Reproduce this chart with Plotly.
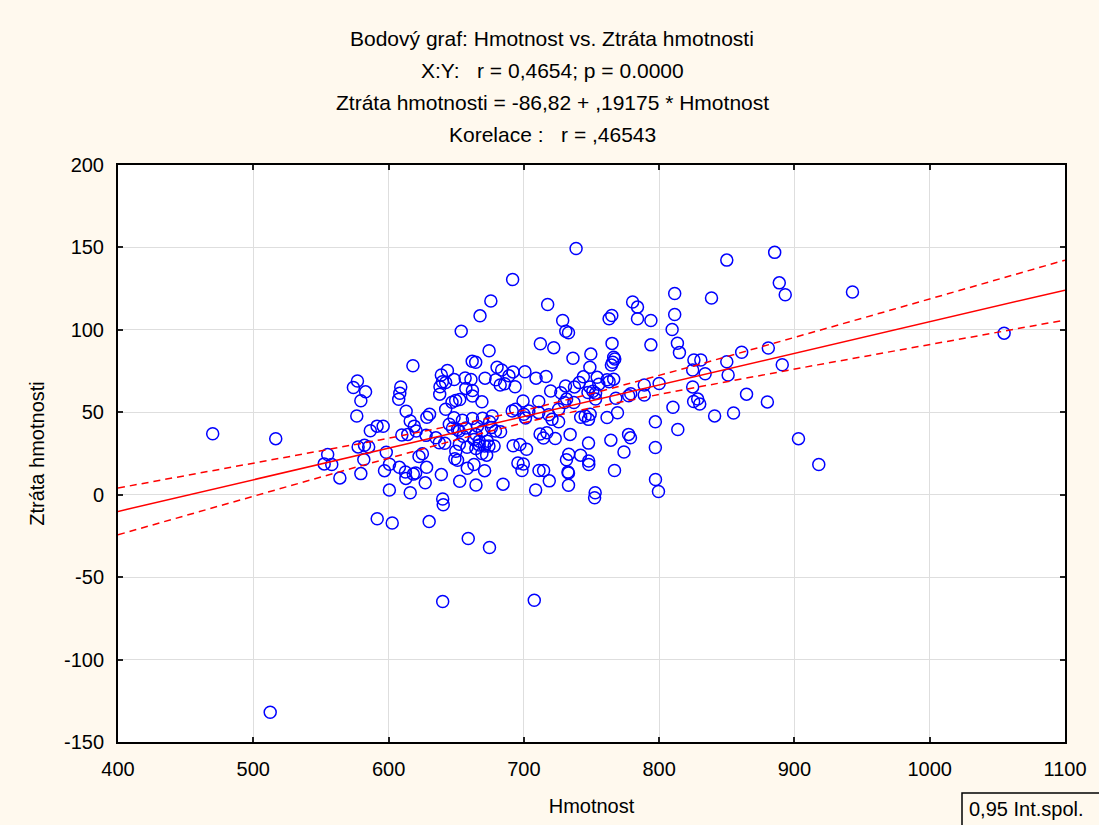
import numpy as np
import plotly.graph_objects as go

# Hmotnost (x) a Ztráta hmotnosti (y)
hmotnost = [
    470, 512.5, 516.6, 552.4, 555, 558, 564, 574, 577, 583, 579.5, 576.5, 586.5, 591.5, 596,
    577.5, 582.2, 585.3, 581.7, 579.5, 598.3, 597, 591.6, 600.7, 600.6, 602.7, 607.5, 608.3,
    609, 613, 616, 619, 620.4, 614.2, 609.8, 618, 608, 612.5, 612.8, 618.3, 620, 616, 622.5,
    625, 628.1, 627.1, 639, 628.3, 630.3, 627.7, 630, 635, 637.5, 641.5, 639, 643.5, 639.8,
    642.2, 638, 637.8, 648.5, 640, 640.4, 640, 642.2, 646.9, 649.6, 652.6, 648.4, 654.6,
    644.9, 647.3, 651, 652.2, 655.1, 657.1, 649.7, 649, 651, 652.3, 658, 652.6, 653.7, 656.6,
    660.9, 657.1, 662, 661.8, 664.4, 658.9, 658.2, 663.1, 662, 663.2, 664.5, 665.7, 664.6,
    667.6, 675.6, 691.7, 674.3, 671.3, 669, 662, 669.5, 676.6, 667, 673, 669.3, 674.7, 676,
    679, 682.8, 664.5, 667, 671, 674.2, 678, 669, 672.5, 671, 674.6, 684.6, 680.2, 683.6,
    689, 693.5, 692, 679.2, 682.5, 685.8, 700.8, 699.4, 691.4, 693.9, 700, 701.2, 692.1,
    697.1, 702, 695.6, 699.6, 698.6, 709, 716.4, 719.8, 711, 717.6, 712.2, 722.1, 728.7, 731,
    733, 736.3, 749.5, 748.8, 754.2, 761.5, 766.4, 763, 741, 744, 730.8, 737.4, 748.8, 755.4,
    751, 727.3, 731.6, 730, 737, 747.4, 753, 753, 768, 777.5, 779, 789, 703.7, 711, 718.4,
    720.8, 725.7, 725.7, 742, 745.3, 747.8, 749, 761.5, 769.2, 797.2, 810.2, 813.8, 825.5,
    828.5, 830, 841, 855, 712, 714.5, 717, 723.2, 734.2, 747.8, 764.3, 777.4, 778.8, 774,
    797.2, 731.5, 733.2, 741.9, 747.9, 748, 711.2, 714.6, 718.8, 708.7, 732.6, 733, 733, 767,
    797.3, 799.5, 752.7, 752.3, 707.7, 903, 918, 738.6, 765, 763, 765.2, 766.4, 767.2, 765.7,
    764.7, 780.4, 784, 784, 793.9, 793.9, 811.5, 811.5, 809.6, 813.5, 815, 838.7, 825.7,
    830.8, 824.8, 834, 824.8, 850, 885.4, 888.8, 893.2, 942.9, 850, 861, 880.7, 891, 851,
    864.6, 880, 1055, 789, 800,
]
ztrata_hmotnosti = [
    37, -132, 34, 18.7, 24.4, 18.3, 10.2, 65, 69, 62.4, 57, 47.7, 38.8, 41.6, 41.5,
    29, 30, 29, 21.3, 12.8, 25.8, 14.6, -14.6, 18.5, 2.8, -17.2, 57.9, 61.5,
    65.3, 50.6, 44.7, 41.6, 38.6, 36.6, 36.2, 78.2, 16.6, 13.8, 9.9, 12.5, 13.2, 1.2, 23.2,
    24.9, 16.6, 7.2, 12.2, 47, 48.8, 36, -16.3, 34.5, 31.5, 31.2, 72.6, 75.3, 68.5,
    68.1, 65.5, 61, 69.9, -2.6, -6.1, -64.8, 51.8, 56.1, 57.2, 57.7, 46.7, 45.2,
    42.7, 40.5, 39.6, 38.6, 35.5, 40.5, 26.4, 21.8, 20.9, 30.6, 28.8, 8.2, 99.2, 70.8,
    69.9, 64.5, 63.2, 80.9, 80.3, -26.6, 16.1, 18.3, 59.9, 33.5, 36.6, 41.6, 5.9,
    108.5, 117.5, 130.5, 87.3, 70.7, 56.4, 46.2, 46.4, 47.7, 32.5, 32.5, 38.6, 44.3, 40.7,
    38.6, 38.2, 28, 30.2, 29.5, 29.5, 29.5, 25, 24, 14.6, -32, 6.4, 77.3, 75.7,
    72.1, 65.5, 74.5, 69.7, 66.5, 67.3, 74.6, 56.9, 50.8, 51.8, 48.8, 46.6, 29.7,
    30.5, 27.6, 19.3, 18.6, 14.7, 70.7, 71.7, 62.9, 56.6, 115.4, 91.6, 89.2, 105.7, 99.2,
    98.2, 82.8, 85.3, 77.3, 71.2, 69.7, 70.1, 68.5, 68, 71.5, 66, 65.4, 65.4, 67,
    62.8, 61.8, 58, 55.9, 55.9, 62, 61.6, 58, 58.5, 60, 61.2, 60.5, 50.8, 49.8, 48.5,
    45.7, 44.3, 51.8, 47, 47.7, 45.7, 48.8, 46.8, 49.7, 44.2, 53.1, 39.6, 56.5,
    58, 55, 47.8, 49.6, 36.8, 34.4, 37.6, 34.1, 36.6, 31.3, 33.1, 36.6, 34.5, 25.9,
    28.6, 21.2, 24.6, 24, 20.5, 18.3, 14.7, 14.7, 8.4, 2.9, 13.8, 13.2, 5.7, 14.7,
    9.2, 1.9, 1.2, -1.8, -64, 34, 18.3, 149.3, 108.7, 106.7, 91.8, 83.4, 82.3, 80.3,
    78.7, 116.9, 113.8, 106.7, 105.7, 90.9, 122.1, 109.3, 100.2, 91.9, 86.2, 119.3, 81.7,
    81.7, 75.6, 73.4, 65.4, 142.3, 147, 128.5, 121.3, 123, 80.7, 86.4, 89, 78.8, 72.6,
    61, 56.3, 98, 66.6, 67.5,
]

# Regresní přímka z titulku: Ztráta hmotnosti = -86,82 + ,19175 * Hmotnost
intercept = -86.82
slope = 0.19175

x_tick_vals = [400, 500, 600, 700, 800, 900, 1000, 1100]
y_tick_vals = [-150, -100, -50, 0, 50, 100, 150, 200]

title_lines = [
    "Bodový graf: Hmotnost vs. Ztráta hmotnosti",
    "X:Y:   r = 0,4654; p = 0.0000",
    "Ztráta hmotnosti = -86,82 + ,19175 * Hmotnost",
    "Korelace :   r = ,46543",
]

x = np.array(hmotnost, dtype=float)
y = np.array(ztrata_hmotnosti, dtype=float)
n = len(x)

# 95% pás spolehlivosti pro střední hodnotu
xs = np.linspace(400, 1100, 200)
fit = intercept + slope * xs
resid = y - (intercept + slope * x)
s = np.sqrt(np.sum(resid ** 2) / (n - 2))
sxx = np.sum((x - x.mean()) ** 2)
half = 1.97 * s * np.sqrt(1.0 / n + (xs - x.mean()) ** 2 / sxx)

FONT = "Liberation Sans, Arial, sans-serif"
BG = "#FFF9EE"

fig = go.Figure()
fig.add_trace(go.Scatter(
    x=hmotnost, y=ztrata_hmotnosti, mode="markers",
    marker=dict(symbol="circle-open", size=12, color="#0000FF", line=dict(width=1.5, color="#0000FF")),
    showlegend=False, cliponaxis=True,
))
fig.add_trace(go.Scatter(x=xs, y=fit, mode="lines", line=dict(color="#FF0000", width=1.5), showlegend=False))
fig.add_trace(go.Scatter(x=xs, y=fit + half, mode="lines",
                         line=dict(color="#FF0000", width=1.5, dash="7px,5px"), showlegend=False))
fig.add_trace(go.Scatter(x=xs, y=fit - half, mode="lines",
                         line=dict(color="#FF0000", width=1.5, dash="7px,5px"), showlegend=False))

L, R, T, B = 118, 34, 165, 83
W, H = 1099, 825
pw, ph = W - L - R, H - T - B


def px_x(p):
    return (p - L) / pw


def px_y(p):
    return (H - B - p) / ph


annotations = []
for i, line in enumerate(title_lines):
    annotations.append(dict(
        text=line, x=px_x(552), y=px_y(38 + 32 * i), xref="paper", yref="paper",
        xanchor="center", yanchor="middle", showarrow=False,
        font=dict(family=FONT, size=21, color="#000000"),
    ))
annotations.append(dict(
    text="0,95 Int.spol.", x=px_x(967), y=px_y(809), xref="paper", yref="paper",
    xanchor="left", yanchor="middle", showarrow=False,
    font=dict(family=FONT, size=20, color="#000000"),
))

fig.update_layout(
    width=W, height=H,
    margin=dict(l=L, r=R, t=T, b=B, pad=0),
    paper_bgcolor=BG, plot_bgcolor="#FFFFFF",
    font=dict(family=FONT, size=20, color="#000000"),
    annotations=annotations,
    shapes=[dict(type="rect", xref="paper", yref="paper",
                 x0=px_x(962), x1=px_x(1110), y0=px_y(840), y1=px_y(793),
                 line=dict(color="#000000", width=1.5), fillcolor=BG, layer="above")],
)
fig.update_xaxes(
    range=[400, 1100], tickvals=x_tick_vals, ticktext=[str(v) for v in x_tick_vals],
    showgrid=True, gridcolor="#DEDEDE", gridwidth=1, zeroline=False,
    showline=True, linecolor="#000000", linewidth=2, mirror="allticks",
    ticks="inside", ticklen=5, tickwidth=2, tickcolor="#222222",
    tickfont=dict(family=FONT, size=20), ticklabelstandoff=8,
    title=dict(text="Hmotnost", font=dict(family=FONT, size=20), standoff=20),
)
fig.update_yaxes(
    range=[-150, 200], tickvals=y_tick_vals, ticktext=[str(v) for v in y_tick_vals],
    showgrid=True, gridcolor="#DEDEDE", gridwidth=1, zeroline=False,
    showline=True, linecolor="#000000", linewidth=2, mirror="allticks",
    ticks="inside", ticklen=5, tickwidth=2, tickcolor="#222222",
    tickfont=dict(family=FONT, size=20), ticklabelstandoff=8,
    title=dict(text="Ztráta hmotnosti", font=dict(family=FONT, size=20), standoff=14),
)

fig.write_html("out.html")
